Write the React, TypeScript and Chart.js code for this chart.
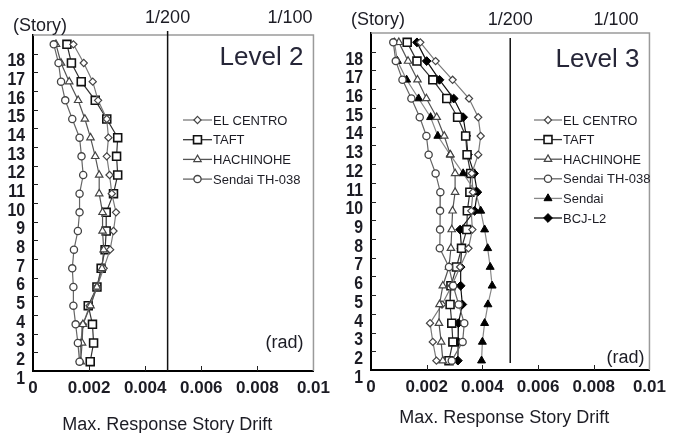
import React, { useEffect, useRef } from 'react';
import { Chart, registerables } from 'chart.js';

Chart.register(...registerables);
Chart.defaults.font.family = '"Liberation Sans", Arial, sans-serif';

// ---------- data ----------
// stories plotted from top (19) to bottom (2)
const stories = [19, 18, 17, 16, 15, 14, 13, 12, 11, 10, 9, 8, 7, 6, 5, 4, 3, 2];
const storyLabels = ['1', '2', '3', '4', '5', '6', '7', '8', '9', '10', '11', '12', '13', '14', '15', '16', '17', '18'];
const storyLabelValues = [1, 2, 3, 4, 5, 6, 7, 8, 9, 10, 11, 12, 13, 14, 15, 16, 17, 18];
const yTickMarks = [2.5, 3.5, 4.5, 5.5, 6.5, 7.5, 8.5, 9.5, 10.5, 11.5, 12.5, 13.5, 14.5, 15.5, 16.5, 17.5, 18.5];
const xTicks = [0, 0.002, 0.004, 0.006, 0.008, 0.01];
const xInnerTicks = [0.002, 0.004, 0.006, 0.008];

// Level 2 (rad)
const l2ElCentro = [0.00144, 0.00181, 0.00213, 0.00232, 0.00263, 0.00269, 0.00263, 0.00273, 0.00281, 0.00296, 0.00287, 0.00275, 0.00252, 0.00228, 0.00202, 0.00178, 0.0017, 0.00167];
const l2Taft = [0.00121, 0.00137, 0.00172, 0.00222, 0.00263, 0.00302, 0.00298, 0.00302, 0.00287, 0.00261, 0.00261, 0.00257, 0.00243, 0.00228, 0.00197, 0.00212, 0.00216, 0.00204];
const l2Hachinohe = [0.00082, 0.001, 0.00129, 0.00161, 0.00185, 0.00205, 0.00222, 0.00236, 0.00236, 0.00248, 0.00248, 0.00252, 0.00246, 0.00228, 0.00205, 0.00178, 0.00175, 0.0017];
const l2SendaiTH = [0.00074, 0.00091, 0.001, 0.00115, 0.0014, 0.00166, 0.00173, 0.00179, 0.00166, 0.00166, 0.0016, 0.00146, 0.0014, 0.00144, 0.00144, 0.00152, 0.0016, 0.00166];

// Level 3 (rad)
const l3ElCentro = [0.00177, 0.00232, 0.00293, 0.00352, 0.00385, 0.00394, 0.00385, 0.00362, 0.00366, 0.0036, 0.00364, 0.0035, 0.0032, 0.0029, 0.00255, 0.00212, 0.00222, 0.00235];
const l3Taft = [0.0013, 0.00165, 0.00222, 0.00272, 0.00311, 0.0034, 0.00345, 0.00358, 0.00355, 0.00346, 0.00344, 0.00325, 0.00307, 0.00287, 0.00284, 0.0029, 0.00294, 0.0028];
const l3Hachinohe = [0.001, 0.00133, 0.00167, 0.00199, 0.00236, 0.00263, 0.00285, 0.00302, 0.00302, 0.00293, 0.0029, 0.00287, 0.0028, 0.00258, 0.00246, 0.00244, 0.00252, 0.00258];
const l3SendaiTH = [0.0008, 0.00089, 0.00113, 0.00145, 0.00175, 0.00199, 0.00207, 0.00232, 0.00249, 0.00248, 0.00248, 0.00247, 0.0028, 0.00295, 0.00315, 0.00335, 0.00329, 0.0029];
const l3Sendai = [0.00084, 0.00095, 0.00128, 0.00171, 0.00214, 0.0024, 0.00284, 0.00331, 0.00376, 0.00394, 0.00408, 0.00419, 0.00428, 0.00435, 0.0042, 0.00408, 0.004, 0.00397];
const l3Bcj = [0.00165, 0.002, 0.00246, 0.00297, 0.00331, 0.00342, 0.00348, 0.0037, 0.00382, 0.00372, 0.0032, 0.00325, 0.00322, 0.00322, 0.00328, 0.00314, 0.00313, 0.00312];

const limitL2 = 0.0048;
const limitL3 = 0.005;

// ---------- styles ----------
type SeriesStyle = { shape: string; r: number; line: string; mark: string; fill: string; bw: number };
const styles: Record<string, SeriesStyle> = {
  'EL CENTRO': { shape: 'rectRot', r: 3.6, line: '#7a7a7a', mark: '#444', fill: '#fff', bw: 1.2 },
  'TAFT': { shape: 'rect', r: 5.6, line: '#333', mark: '#111', fill: '#fff', bw: 1.6 },
  'HACHINOHE': { shape: 'triangle', r: 4.3, line: '#555', mark: '#444', fill: '#fff', bw: 1.2 },
  'Sendai TH-038': { shape: 'circle', r: 3.6, line: '#666', mark: '#444', fill: '#fff', bw: 1.3 },
  'Sendai': { shape: 'triangle', r: 4.6, line: '#888', mark: '#000', fill: '#000', bw: 1 },
  'BCJ-L2': { shape: 'rectRot', r: 4.4, line: '#111', mark: '#000', fill: '#000', bw: 1 },
};

const makeDs = (label: string, values: number[]) => {
  const s = styles[label];
  return {
    label,
    data: values.map((v, i) => ({ x: v, y: stories[i] })),
    showLine: true,
    borderColor: s.line,
    borderWidth: 1.2,
    pointStyle: s.shape,
    pointRadius: s.r,
    pointHoverRadius: s.r,
    pointBorderColor: s.mark,
    pointBackgroundColor: s.fill,
    pointBorderWidth: s.bw,
    tension: 0,
  };
};

function drawMarker(ctx: CanvasRenderingContext2D, st: SeriesStyle, x: number, y: number) {
  const r = st.r;
  ctx.beginPath();
  if (st.shape === 'circle') ctx.arc(x, y, r, 0, Math.PI * 2);
  else if (st.shape === 'rect') {
    const s = r * Math.SQRT1_2;
    ctx.rect(x - s, y - s, 2 * s, 2 * s);
  } else if (st.shape === 'rectRot') {
    ctx.moveTo(x, y - r); ctx.lineTo(x + r, y); ctx.lineTo(x, y + r); ctx.lineTo(x - r, y); ctx.closePath();
  } else {
    for (let k = 0; k < 3; k++) {
      const a = (k * 2 * Math.PI) / 3;
      const px = x + Math.sin(a) * r, py = y - Math.cos(a) * r;
      if (k === 0) ctx.moveTo(px, py); else ctx.lineTo(px, py);
    }
    ctx.closePath();
  }
  ctx.fillStyle = st.fill; ctx.fill();
  ctx.lineWidth = st.bw; ctx.strokeStyle = st.mark; ctx.stroke();
}

const TEXT = '#1c1c24';

const panelPlugin = {
  id: 'panel',
  afterDraw(chart: any, _args: any, o: any) {
    const { ctx, chartArea: a, scales } = chart;
    const x = scales.x, y = scales.y;
    const line = (x1: number, y1: number, x2: number, y2: number) => { ctx.beginPath(); ctx.moveTo(x1, y1); ctx.lineTo(x2, y2); ctx.stroke(); };
    ctx.save();
    // grey frame
    ctx.strokeStyle = '#9a9a9a'; ctx.lineWidth = 1.5;
    ctx.beginPath(); ctx.moveTo(a.left, a.top); ctx.lineTo(a.right, a.top); ctx.lineTo(a.right, a.bottom); ctx.stroke();
    // inner tick marks
    ctx.strokeStyle = '#222'; ctx.lineWidth = 1;
    xInnerTicks.forEach((v) => { const px = Math.round(x.getPixelForValue(v)) + 0.5; line(px, a.bottom, px, a.bottom - 5); });
    yTickMarks.forEach((v) => { const py = Math.round(y.getPixelForValue(v)) + 0.5; line(a.left, py, a.left + 5, py); });
    // limit line
    const vx = x.getPixelForValue(o.limit);
    ctx.strokeStyle = '#111'; ctx.lineWidth = 1.5;
    line(vx, a.top + o.vTop, vx, a.bottom + o.vBottom);
    // story labels
    ctx.fillStyle = TEXT; ctx.textAlign = 'right'; ctx.textBaseline = 'middle';
    ctx.font = 'bold 18px "Liberation Sans", Arial, sans-serif';
    storyLabels.forEach((lab, i) => {
      const py = y.getPixelForValue(storyLabelValues[i]) - 1.5;
      ctx.save(); ctx.translate(a.left - 8, py); ctx.scale(0.88, 1); ctx.fillText(lab, 0, 0); ctx.restore();
    });
    // top texts
    ctx.font = '18px "Liberation Sans", Arial, sans-serif';
    ctx.textAlign = 'left';
    ctx.fillText('(Story)', a.left - 20, o.storyY);
    ctx.textAlign = 'center';
    ctx.fillText('1/200', vx, o.topY);
    ctx.textAlign = 'right';
    ctx.fillText('1/100', x.getPixelForValue(0.01) + o.p100dx, o.topY);
    ctx.fillText('(rad)', a.right + o.radDx, o.radY);
    // level title
    ctx.font = '26px "Liberation Sans", Arial, sans-serif';
    ctx.fillStyle = '#262638';
    ctx.fillText(o.level, a.right - 10, o.levelY);
    // axis title
    ctx.fillStyle = TEXT; ctx.textAlign = 'center';
    ctx.font = '18px "Liberation Sans", Arial, sans-serif';
    ctx.fillText('Max. Response Story Drift', (a.left + a.right) / 2 - 6, o.titleY);
    // legend
    ctx.font = '13px "Liberation Sans", Arial, sans-serif';
    ctx.textAlign = 'left';
    o.legend.forEach((name: string, i: number) => {
      const st = styles[name];
      const ly = o.legendY + i * o.legendStep;
      ctx.strokeStyle = st.line; ctx.lineWidth = 1.3;
      line(o.legendX0, ly, o.legendX1, ly);
      drawMarker(ctx, st, (o.legendX0 + o.legendX1) / 2, ly);
      ctx.fillStyle = TEXT;
      ctx.fillText(name, o.legendX1 + 1, ly + 1);
    });
    ctx.restore();
  },
};

type PanelProps = { width: number; height: number; datasets: any[]; opts: any };

function Panel({ width, height, datasets, opts }: PanelProps) {
  const ref = useRef<HTMLCanvasElement>(null);
  useEffect(() => {
    const chart = new Chart(ref.current as HTMLCanvasElement, {
      type: 'scatter',
      data: { datasets },
      options: {
        responsive: false,
        animation: false,
        events: [],
        layout: { padding: { top: opts.areaTop, right: width - opts.areaRight, left: 0, bottom: 0 } },
        plugins: { legend: { display: false }, tooltip: { enabled: false }, panel: opts } as any,
        scales: {
          x: {
            type: 'linear', min: 0, max: 0.01,
            afterBuildTicks: (s: any) => { s.ticks = xTicks.map((v) => ({ value: v })); },
            afterFit: (s: any) => { s.height = height - opts.areaBottom; },
            grid: { display: false, drawTicks: false, tickLength: 0 },
            border: { display: true, color: '#000', width: 2 },
            ticks: {
              autoSkip: false, maxRotation: 0, padding: 7, color: TEXT,
              font: { size: 17, weight: 'bold' },
              callback: (v: any) => String(Number(Number(v).toFixed(3))),
            },
          },
          y: {
            type: 'linear', min: 1.5, max: 19.5,
            afterFit: (s: any) => { s.width = opts.areaLeft; },
            grid: { display: false, drawTicks: false, tickLength: 0 },
            border: { display: true, color: '#000', width: 2 },
            ticks: { display: false },
          },
        },
      } as any,
      plugins: [panelPlugin as any],
    });
    return () => chart.destroy();
  }, []);
  return <canvas ref={ref} width={width} height={height} style={{ display: 'block', width, height }} />;
}

const leftDatasets = [
  makeDs('Sendai TH-038', l2SendaiTH),
  makeDs('HACHINOHE', l2Hachinohe),
  makeDs('EL CENTRO', l2ElCentro),
  makeDs('TAFT', l2Taft),
];
const rightDatasets = [
  makeDs('Sendai TH-038', l3SendaiTH),
  makeDs('HACHINOHE', l3Hachinohe),
  makeDs('EL CENTRO', l3ElCentro),
  makeDs('Sendai', l3Sendai),
  makeDs('TAFT', l3Taft),
  makeDs('BCJ-L2', l3Bcj),
];

const leftOpts = {
  areaLeft: 33, areaRight: 318, areaTop: 35, areaBottom: 371,
  limit: limitL2, vTop: -4, vBottom: 0,
  storyY: 26, topY: 18, p100dx: -1, radDx: -10, radY: 343,
  level: 'Level 2', levelY: 58, titleY: 425,
  legend: ['EL CENTRO', 'TAFT', 'HACHINOHE', 'Sendai TH-038'],
  legendX0: 183, legendX1: 212, legendY: 120, legendStep: 19.7,
};
const rightOpts = {
  areaLeft: 34, areaRight: 316, areaTop: 33, areaBottom: 370,
  limit: limitL3, vTop: 5, vBottom: -7,
  storyY: 20, topY: 20, p100dx: -11, radDx: -5, radY: 358,
  level: 'Level 3', levelY: 60, titleY: 418,
  legend: ['EL CENTRO', 'TAFT', 'HACHINOHE', 'Sendai TH-038', 'Sendai', 'BCJ-L2'],
  legendX0: 197, legendX1: 225, legendY: 120, legendStep: 19.6,
};

export default function App() {
  return (
    <div style={{ position: 'fixed', left: 0, top: 0, width: 673, height: 433, display: 'flex', background: '#fff' }}>
      <Panel width={337} height={433} datasets={leftDatasets} opts={leftOpts} />
      <Panel width={336} height={433} datasets={rightDatasets} opts={rightOpts} />
    </div>
  );
}
